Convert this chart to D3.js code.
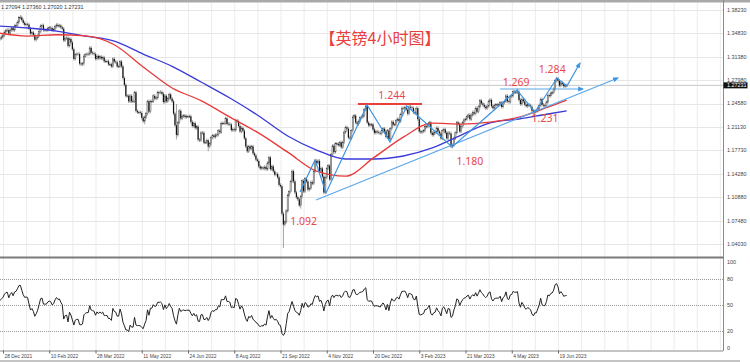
<!DOCTYPE html>
<html>
<head>
<meta charset="utf-8">
<script src="https://cdn.jsdelivr.net/npm/d3@7"></script>
<style>
  body { margin: 0; background: #fff; }
  svg { display: block; }
</style>
</head>
<body>
<div id="chart"></div>
<script>
// GBPUSD daily bars (closes), Nov 2021 - Jun 2023
const closes = [
  // Nov 2021 (off the left edge, gives RSI its warm up)
  1.3680, 1.3610, 1.3670, 1.3500, 1.3490,
  1.3560, 1.3550, 1.3400, 1.3360, 1.3410,
  1.3420, 1.3455, 1.3500, 1.3515, 1.3440,
  1.3410, 1.3380, 1.3340, 1.3320, 1.3330,
  1.3300, 1.3300, 1.3240, 1.3300, 1.3220,
  // Dec 2021
  1.3250, 1.3240, 1.3220, 1.3220, 1.3270,
  1.3230, 1.3240, 1.3290, 1.3300, 1.3240,
  1.3210, 1.3250, 1.3370, 1.3400, 1.3410,
  1.3430, 1.3450, 1.3500, 1.3525, 1.3530,
  // Jan 2022
  1.3480, 1.3530, 1.3560, 1.3530, 1.3590,
  1.3600, 1.3645, 1.3710, 1.3715, 1.3675,
  1.3635, 1.3610, 1.3615, 1.3610, 1.3550,
  1.3480, 1.3495, 1.3460, 1.3390, 1.3415,
  // Feb 2022
  1.3450, 1.3510, 1.3590, 1.3600, 1.3530,
  1.3530, 1.3530, 1.3555, 1.3565, 1.3560,
  1.3530, 1.3540, 1.3580, 1.3605, 1.3590,
  1.3595, 1.3570, 1.3550, 1.3380, 1.3410,
  // Mar 2022
  1.3415, 1.3300, 1.3400, 1.3350, 1.3250,
  1.3110, 1.3170, 1.3180, 1.3180, 1.3040,
  1.3030, 1.3040, 1.3150, 1.3170, 1.3180,
  1.3180, 1.3270, 1.3200, 1.3190, 1.3180,
  1.3110, 1.3150, 1.3120, 1.3140, 1.3115,
  // Apr 2022
  1.3130, 1.3075, 1.3075, 1.3075, 1.3030,
  1.3030, 1.3000, 1.3110, 1.3070, 1.3060,
  1.3000, 1.3000, 1.3070, 1.3000, 1.2830,
  1.2730, 1.2570, 1.2570, 1.2490, 1.2570,
  // May 2022
  1.2490, 1.2490, 1.2620, 1.2350, 1.2330,
  1.2330, 1.2320, 1.2250, 1.2200, 1.2260,
  1.2310, 1.2490, 1.2340, 1.2490, 1.2490,
  1.2570, 1.2530, 1.2540, 1.2620, 1.2620,
  // Jun 2022
  1.2625, 1.2600, 1.2480, 1.2570, 1.2490,
  1.2530, 1.2590, 1.2530, 1.2490, 1.2310,
  1.2140, 1.2000, 1.2180, 1.2350, 1.2240,
  1.2270, 1.2280, 1.2260, 1.2270, 1.2270,
  1.2270, 1.2190, 1.2130, 1.2170, 1.2100,
  // Jul 2022
  1.2120, 1.1930, 1.1920, 1.2030, 1.2030,
  1.1890, 1.1890, 1.1920, 1.1830, 1.1870,
  1.1960, 1.1990, 1.1970, 1.2000, 1.2000,
  1.2060, 1.2040, 1.2170, 1.2170, 1.2170,
  // Aug 2022
  1.2240, 1.2160, 1.2160, 1.2150, 1.2070,
  1.2080, 1.2070, 1.2210, 1.2200, 1.2130,
  1.2050, 1.2100, 1.2060, 1.1950, 1.1830,
  1.1760, 1.1830, 1.1800, 1.1830, 1.1730,
  // Sep 2022
  1.1700, 1.1640, 1.1620, 1.1540, 1.1510,
  1.1520, 1.1510, 1.1530, 1.1500, 1.1590,
  1.1670, 1.1500, 1.1540, 1.1470, 1.1420,
  1.1430, 1.1380, 1.1270, 1.1250, 1.0850,
  1.0690, 1.0730, 1.0890, 1.1120, 1.1170,
  // Oct 2022
  1.1320, 1.1470, 1.1320, 1.1160, 1.1090,
  1.1060, 1.0970, 1.1100, 1.1330, 1.1175,
  1.1360, 1.1320, 1.1200, 1.1220, 1.1310,
  1.1290, 1.1470, 1.1620, 1.1590, 1.1620,
  // Nov 2022
  1.1470, 1.1510, 1.1390, 1.1160, 1.1380,
  1.1510, 1.1550, 1.1350, 1.1710, 1.1840,
  1.1750, 1.1870, 1.1870, 1.1850, 1.1890,
  1.1820, 1.1890, 1.2040, 1.2110, 1.2090,
  // Dec 2022
  1.1960, 1.1950, 1.2060, 1.2260, 1.2280,
  1.2180, 1.2160, 1.2200, 1.2250, 1.2260,
  1.2280, 1.2370, 1.2420, 1.2180, 1.2140,
  1.2150, 1.2150, 1.2080, 1.2030, 1.2050,
  1.2040, 1.2030, 1.2020, 1.2060, 1.2090,
  // Jan 2023
  1.2050, 1.1970, 1.2060, 1.1940, 1.2090,
  1.2190, 1.2150, 1.2150, 1.2210, 1.2230,
  1.2200, 1.2300, 1.2390, 1.2390, 1.2400,
  1.2370, 1.2310, 1.2410, 1.2400, 1.2390,
  // Feb 2023
  1.2330, 1.2320, 1.2390, 1.2230, 1.2050,
  1.2040, 1.2050, 1.2060, 1.2120, 1.2120,
  1.2150, 1.2180, 1.2030, 1.2000, 1.2030,
  1.2040, 1.2100, 1.2050, 1.2020, 1.1950,
  // Mar 2023
  1.2060, 1.2080, 1.2030, 1.1950, 1.2030,
  1.2020, 1.1830, 1.1850, 1.1950, 1.2030,
  1.2180, 1.2160, 1.2050, 1.2120, 1.2180,
  1.2220, 1.2230, 1.2270, 1.2290, 1.2230,
  1.2290, 1.2330, 1.2310, 1.2390, 1.2340,
  // Apr 2023
  1.2410, 1.2500, 1.2460, 1.2440, 1.2410,
  1.2390, 1.2420, 1.2490, 1.2510, 1.2420,
  1.2390, 1.2430, 1.2440, 1.2440, 1.2440,
  1.2470, 1.2410, 1.2470, 1.2490, 1.2570,
  // May 2023
  1.2490, 1.2480, 1.2560, 1.2570, 1.2630,
  1.2620, 1.2620, 1.2630, 1.2510, 1.2450,
  1.2520, 1.2490, 1.2440, 1.2420, 1.2440,
  1.2430, 1.2410, 1.2350, 1.2320, 1.2350,
  // Jun 2023
  1.2350, 1.2390, 1.2430, 1.2520, 1.2440,
  1.2430, 1.2430, 1.2480, 1.2580, 1.2570,
  1.2610, 1.2620, 1.2670, 1.2790, 1.2820,
  1.2790, 1.2720, 1.2760, 1.2740, 1.2710,
  1.2720, 1.2723
]

// bars whose wick sticks out well beyond the body: [bar, price]
const spikeHighs = [[53, 1.3749], [161, 1.2450], [292, 1.2446], [320, 1.2448], [397, 1.2680], [424, 1.2848]]
const spikeLows = [[139, 1.2155], [161, 1.1934], [183, 1.1760], [235, 1.0350], [247, 1.0924], [263, 1.1145], [352, 1.1803], [408, 1.2308]]

// moving averages: [bar, value]
const maRed = [
  [38, 1.3487], [58, 1.3443], [78, 1.3462], [98, 1.3445], [118, 1.3315], [138, 1.2991],
  [158, 1.2685], [178, 1.2500], [198, 1.2259], [218, 1.2025], [238, 1.1748], [258, 1.1470],
  [278, 1.1397], [298, 1.1675], [318, 1.1967], [338, 1.2171], [358, 1.2157], [378, 1.2186],
  [398, 1.2259], [418, 1.2405], [431, 1.2508]
]
const maBlue = [
  [38, 1.3589], [58, 1.3560], [78, 1.3516], [98, 1.3443], [118, 1.3370], [138, 1.3180],
  [158, 1.3000], [178, 1.2772], [198, 1.2538], [218, 1.2276], [238, 1.1984], [258, 1.1779],
  [278, 1.1648], [298, 1.1648], [318, 1.1692], [338, 1.1809], [358, 1.1998], [378, 1.2174],
  [398, 1.2232], [418, 1.2305], [431, 1.2349]
]

// hand drawn analysis lines: [bar, price]
const zigzag = [
  [246.5, 1.1166], [256.9, 1.1634], [264.5, 1.1152], [292.9, 1.2436], [308.8, 1.1896],
  [320.5, 1.2422], [351.7, 1.1823], [396.6, 1.2655], [409.1, 1.2334], [424.3, 1.2830],
  [431.2, 1.2714], [440.2, 1.3049]
]
const trendline = [[257.6, 1.1050], [466.5, 1.2830]]
const neckline = [[384.9, 1.2670], [442.3, 1.2670]]
const resistance = [[286.6, 1.2451], [330.9, 1.2451]]

const priceNotes = [
  { text: "1.244", bar: 310, price: 1.2575 },
  { text: "1.092", bar: 249, price: 1.0745 },
  { text: "1.180", bar: 364, price: 1.1620 },
  { text: "1.269", bar: 396, price: 1.2760 },
  { text: "1.284", bar: 421, price: 1.2950 },
  { text: "1.231", bar: 416, price: 1.2240 }
]

const title = "【英镑4小时图】"
const quote = ["1.27094", "1.27360", "1.27020", "1.27231"]
const lastPrice = "1.27231"
const priceTicks = ["1.38230", "1.34830", "1.31380", "1.27980", "1.24580", "1.21130", "1.17730", "1.14280", "1.10880", "1.07480", "1.04030"]
const rsiTicks = [100, 80, 50, 20, 0]
const rsiLevels = [80, 50, 20]
const dateLabels = ["28 Dec 2021", "10 Feb 2022", "28 Mar 2022", "11 May 2022", "24 Jun 2022", "8 Aug 2022", "21 Sep 2022", "4 Nov 2022", "20 Dec 2022", "3 Feb 2023", "21 Mar 2023", "4 May 2023", "19 Jun 2023"]
const firstLabelBar = 41
const barsPerLabel = 32

// layout
const width = 750
const height = 362
const plotRight = 723
const mainTop = 2.5
const mainBottom = 256.5
const rsiTop = 259
const rsiBottom = 350.5
const wickPad = 0.0025

const svg = d3.select('#chart')
  .append('svg')
  .attr('width', width)
  .attr('height', height)
  .style('font-family', '"Liberation Sans", Arial, sans-serif')

const defs = svg.append('defs')
defs.append('clipPath').attr('id', 'clipMain')
  .append('rect').attr('x', 0).attr('y', mainTop).attr('width', plotRight).attr('height', mainBottom - mainTop)
defs.append('clipPath').attr('id', 'clipRsi')
  .append('rect').attr('x', 0).attr('y', rsiTop).attr('width', plotRight).attr('height', rsiBottom - rsiTop)
defs.append('marker')
  .attr('id', 'arrow')
  .attr('viewBox', '0 0 10 10')
  .attr('refX', 8).attr('refY', 5)
  .attr('markerWidth', 5).attr('markerHeight', 5)
  .attr('orient', 'auto')
  .append('path')
  .attr('d', 'M0,1 L10,5 L0,9 z')
  .attr('fill', '#3b95e3')

// scales
const x = d3.scaleLinear().domain([firstLabelBar, firstLabelBar + barsPerLabel * 12]).range([3, 558])
const y = d3.scaleLinear().domain([1.0403, 1.3823]).range([244.3, 10])
const yRsi = d3.scaleLinear().domain([0, 100]).range([348, 262])

// grid
const gridBars = d3.range(firstLabelBar, x.invert(plotRight), barsPerLabel / 2)
svg.append('g').selectAll('line')
  .data(gridBars)
  .enter().append('line')
  .attr('x1', d => x(d) + 0.5).attr('x2', d => x(d) + 0.5)
  .attr('y1', mainTop).attr('y2', rsiBottom)
  .attr('stroke', '#ececec')
  .attr('stroke-width', 1)

svg.append('g').selectAll('line')
  .data(priceTicks)
  .enter().append('line')
  .attr('x1', 0).attr('x2', plotRight)
  .attr('y1', d => Math.round(y(+d)) + 0.5).attr('y2', d => Math.round(y(+d)) + 0.5)
  .attr('stroke', '#e6e6e6')

svg.append('g').selectAll('line')
  .data(rsiLevels)
  .enter().append('line')
  .attr('x1', 0).attr('x2', plotRight)
  .attr('y1', d => Math.round(yRsi(d)) + 0.5).attr('y2', d => Math.round(yRsi(d)) + 0.5)
  .attr('stroke', '#9a9a9a')
  .attr('stroke-dasharray', '1,1')

// candles
const bars = closes.map((c, i) => {
  const o = i > 0 ? closes[i - 1] : c
  return { i: i, o: o, c: c, h: Math.max(o, c) + wickPad, l: Math.min(o, c) - wickPad }
})
spikeHighs.forEach(s => { bars[s[0]].h = Math.max(bars[s[0]].h, s[1]) })
spikeLows.forEach(s => { bars[s[0]].l = Math.min(bars[s[0]].l, s[1]) })

const main = svg.append('g').attr('clip-path', 'url(#clipMain)')

// current price line
main.append('line')
  .attr('x1', 0).attr('x2', plotRight)
  .attr('y1', y(+lastPrice)).attr('y2', y(+lastPrice))
  .attr('stroke', '#c8c8c8')

const candles = main.append('g')
candles.selectAll('line')
  .data(bars)
  .enter().append('line')
  .attr('x1', d => x(d.i)).attr('x2', d => x(d.i))
  .attr('y1', d => y(d.h)).attr('y2', d => y(d.l))
  .attr('stroke', '#8a8a8a')
  .attr('stroke-width', 0.8)
candles.selectAll('rect')
  .data(bars)
  .enter().append('rect')
  .attr('x', d => x(d.i) - 0.6)
  .attr('width', 1.2)
  .attr('y', d => y(Math.max(d.o, d.c)))
  .attr('height', d => Math.max(0.6, Math.abs(y(d.o) - y(d.c))))
  .attr('fill', d => d.c >= d.o ? '#d8d8d8' : '#111')
  .attr('stroke', d => d.c >= d.o ? '#333' : 'none')
  .attr('stroke-width', 0.4)

// moving averages
const maLine = d3.line().x(d => x(d[0])).y(d => y(d[1])).curve(d3.curveMonotoneX)
main.append('path').attr('d', maLine(maBlue)).attr('fill', 'none').attr('stroke', '#3a3ad8').attr('stroke-width', 1.3)
main.append('path').attr('d', maLine(maRed)).attr('fill', 'none').attr('stroke', '#e83a3a').attr('stroke-width', 1.3)

// analysis lines
const straight = d3.line().x(d => x(d[0])).y(d => y(d[1]))
main.append('path').attr('d', straight(resistance)).attr('fill', 'none').attr('stroke', '#e8403c').attr('stroke-width', 2)
main.append('path').attr('d', straight(trendline)).attr('fill', 'none').attr('stroke', '#5aa7ea').attr('stroke-width', 1.2).attr('marker-end', 'url(#arrow)')
main.append('path').attr('d', straight(neckline)).attr('fill', 'none').attr('stroke', '#5aa7ea').attr('stroke-width', 1.2).attr('marker-end', 'url(#arrow)')
main.append('path').attr('d', straight(zigzag)).attr('fill', 'none').attr('stroke', '#3b95e3').attr('stroke-width', 1.2).attr('marker-end', 'url(#arrow)')

// notes
svg.append('g').selectAll('text')
  .data(priceNotes)
  .enter().append('text')
  .attr('x', d => x(d.bar))
  .attr('y', d => y(d.price))
  .attr('text-anchor', 'middle')
  .attr('dy', '0.35em')
  .style('font-family', '"Noto Sans", sans-serif')
  .style('font-size', '10.5px')
  .attr('fill', '#e8474a')
  .text(d => d.text)

svg.append('text')
  .attr('x', 380).attr('y', 44)
  .attr('text-anchor', 'middle')
  .style('font-family', '"Noto Sans CJK SC", sans-serif')
  .style('font-size', '16px')
  .attr('fill', '#e8403c')
  .text(title)

svg.append('text')
  .attr('x', 1).attr('y', 9)
  .style('font-size', '5.4px')
  .attr('fill', '#333')
  .text(quote.join(' '))

// RSI(14) from the closes
function rsi(values, n) {
  const out = values.map(() => null)
  let g = 0, l = 0
  for (let i = 1; i <= n; i++) {
    const d = values[i] - values[i - 1]
    if (d > 0) g += d; else l -= d
  }
  g /= n; l /= n
  out[n] = 100 - 100 / (1 + g / l)
  for (let i = n + 1; i < values.length; i++) {
    const d = values[i] - values[i - 1]
    g = (g * (n - 1) + Math.max(d, 0)) / n
    l = (l * (n - 1) + Math.max(-d, 0)) / n
    out[i] = l === 0 ? 100 : 100 - 100 / (1 + g / l)
  }
  return out
}
const rsiValues = rsi(closes, 14).map((v, i) => [i, v]).filter(d => d[1] !== null)

svg.append('g').attr('clip-path', 'url(#clipRsi)')
  .append('path')
  .attr('d', d3.line().x(d => x(d[0])).y(d => yRsi(d[1]))(rsiValues))
  .attr('fill', 'none')
  .attr('stroke', '#222')
  .attr('stroke-width', 1)

// frame
svg.append('rect').attr('x', 0).attr('y', 0).attr('width', width).attr('height', 2.5).attr('fill', '#a9a9a9')
svg.append('line').attr('x1', 0).attr('x2', plotRight).attr('y1', 257.5).attr('y2', 257.5).attr('stroke', '#7a7a7a').attr('stroke-width', 2)
svg.append('line').attr('x1', plotRight + 0.5).attr('x2', plotRight + 0.5).attr('y1', 0).attr('y2', rsiBottom + 0.5).attr('stroke', '#8a8a8a')
svg.append('line').attr('x1', 0).attr('x2', plotRight).attr('y1', rsiBottom + 0.5).attr('y2', rsiBottom + 0.5).attr('stroke', '#8a8a8a')
svg.append('line').attr('x1', 0).attr('x2', 740).attr('y1', 361).attr('y2', 361).attr('stroke', '#b0b0b0').attr('stroke-width', 1.5)

// price axis labels
svg.append('g').selectAll('text')
  .data(priceTicks)
  .enter().append('text')
  .attr('x', plotRight + 4)
  .attr('y', d => y(+d))
  .attr('dy', '0.35em')
  .style('font-size', '5.4px')
  .attr('fill', '#444')
  .text(d => d)

svg.append('rect')
  .attr('x', plotRight + 0.5).attr('y', y(+lastPrice) - 3)
  .attr('width', 24).attr('height', 6)
  .attr('fill', '#111')
svg.append('text')
  .attr('x', plotRight + 4).attr('y', y(+lastPrice))
  .attr('dy', '0.35em')
  .style('font-size', '5.4px')
  .attr('fill', '#fff')
  .text(lastPrice)

// RSI axis labels
svg.append('g').selectAll('text')
  .data(rsiTicks)
  .enter().append('text')
  .attr('x', plotRight + 4)
  .attr('y', d => yRsi(d))
  .attr('dy', '0.35em')
  .style('font-size', '5.4px')
  .attr('fill', '#444')
  .text(d => d)

// date axis
const dateAxis = svg.append('g')
dateAxis.selectAll('line')
  .data(dateLabels)
  .enter().append('line')
  .attr('x1', (d, i) => x(firstLabelBar + i * barsPerLabel) + 0.5)
  .attr('x2', (d, i) => x(firstLabelBar + i * barsPerLabel) + 0.5)
  .attr('y1', rsiBottom).attr('y2', rsiBottom + 3)
  .attr('stroke', '#666')
dateAxis.selectAll('text')
  .data(dateLabels)
  .enter().append('text')
  .attr('x', (d, i) => x(firstLabelBar + i * barsPerLabel) + 1.5)
  .attr('y', 357.5)
  .style('font-size', '4.9px')
  .attr('fill', '#444')
  .text(d => d)
</script>
</body>
</html>
